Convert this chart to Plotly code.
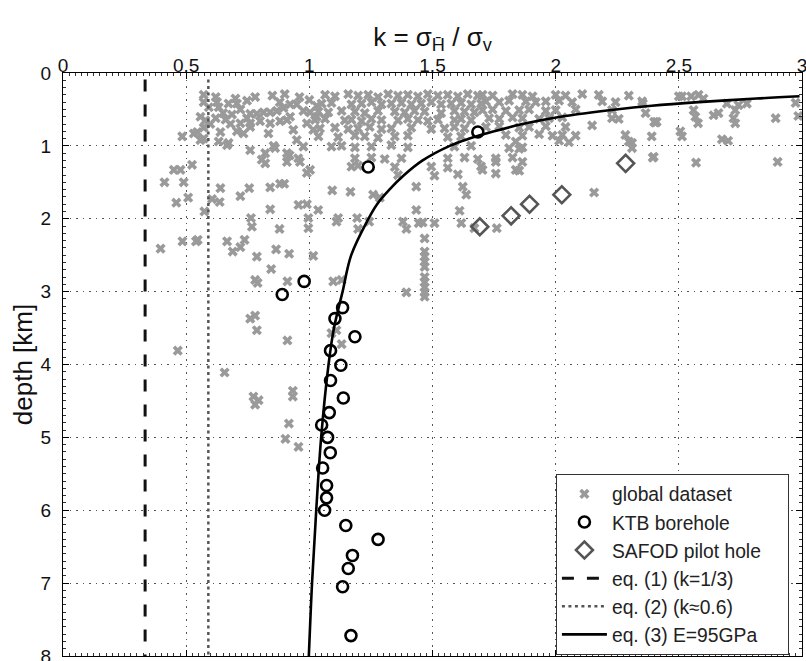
import plotly.graph_objects as go

# ---------------- data ----------------
# global dataset (k, depth km)
global_dataset = [
    # shallow band, k < 1.04
    (0.571,0.30),(0.62,0.33),(0.70,0.35),(0.78,0.33),(0.85,0.31),(0.90,0.29),(0.96,0.33),(1.00,0.37),
    (0.571,0.40),(0.625,0.40),(0.592,0.47),(0.558,0.60),(0.578,0.65),(0.571,0.75),(0.598,0.70),
    (0.632,0.47),(0.639,0.81),(0.632,0.94),(0.666,0.99),(0.484,0.87),(0.531,0.83),(0.545,0.81),
    (0.558,0.92),(0.571,0.90),(0.45,1.33),(0.477,1.33),(0.524,1.26),(0.672,0.42),(0.706,0.42),
    (0.686,0.57),(0.747,0.38),(0.76,0.56),(0.787,0.56),(0.814,0.54),(0.841,0.54),(0.868,0.52),
    (0.895,0.48),(0.922,0.43),(0.949,0.43),(0.976,0.52),(1.003,0.54),(1.03,0.60),(0.76,0.69),
    (0.80,0.66),(0.841,0.69),(0.881,0.66),(0.922,0.60),(0.72,0.69),(0.706,0.80),(0.733,0.83),
    (0.76,0.74),(0.747,0.62),(0.672,0.96),(0.76,1.06),(0.821,1.10),(0.821,1.24),(0.834,0.83),
    (0.861,1.03),(0.909,0.645),(0.935,0.78),(0.949,0.92),(0.976,1.01),(0.909,1.10),(0.909,1.22),
    (0.955,1.17),(0.962,1.22),(1.003,1.33),(0.99,0.69),(1.016,0.78),(1.03,0.45),(0.65,0.55),
    (0.62,0.62),(0.68,0.70),(0.88,0.40),(0.72,0.50),(0.66,0.64),(0.807,1.19),(0.855,1.00),
    (0.92,1.13),(0.99,1.37),
    # shallow band, 1.02 < k < 1.71
    (1.064,0.30),(1.104,0.32),(1.158,0.29),(1.198,0.31),(1.239,0.30),(1.279,0.33),(1.320,0.29),
    (1.360,0.31),(1.400,0.30),(1.441,0.32),(1.481,0.29),(1.522,0.31),(1.562,0.30),(1.603,0.32),
    (1.643,0.29),(1.684,0.31),
    (1.050,0.42),(1.090,0.41),(1.171,0.43),(1.212,0.42),(1.252,0.40),(1.293,0.43),(1.333,0.42),
    (1.374,0.41),(1.414,0.43),(1.454,0.42),(1.495,0.40),(1.535,0.43),(1.576,0.42),(1.616,0.41),
    (1.657,0.43),(1.697,0.42),
    (1.037,0.53),(1.077,0.54),(1.131,0.52),(1.185,0.53),(1.225,0.55),(1.279,0.52),(1.347,0.53),
    (1.387,0.54),(1.427,0.52),(1.468,0.53),(1.535,0.55),(1.589,0.52),(1.630,0.53),(1.670,0.54),
    (1.023,0.645),(1.064,0.63),(1.144,0.65),(1.171,0.64),(1.212,0.66),(1.252,0.63),(1.293,0.645),
    (1.360,0.65),(1.400,0.63),(1.441,0.645),(1.481,0.66),(1.522,0.64),(1.589,0.645),(1.616,0.63),
    (1.657,0.65),
    (1.043,0.76),(1.104,0.75),(1.158,0.77),(1.198,0.76),(1.245,0.74),(1.293,0.77),(1.333,0.76),
    (1.414,0.75),(1.495,0.77),(1.549,0.76),(1.589,0.74),(1.630,0.76),
    (1.037,0.87),(1.117,0.88),(1.185,0.86),(1.225,0.87),(1.279,0.89),(1.347,0.87),(1.400,0.86),
    (1.562,0.88),(1.616,0.87),
    (1.090,1.01),(1.131,1.00),(1.185,1.02),(1.252,1.01),(1.333,0.99),(1.400,1.02),(1.589,1.01),
    (1.657,1.00),
    (1.185,1.17),(1.252,1.16),(1.306,1.18),(1.374,1.17),(1.562,1.17),(1.630,1.16),(1.684,1.18),
    (1.171,1.285),(1.198,1.27),(1.347,1.29),(1.495,1.285),(1.562,1.30),(1.697,1.28),
    (1.360,1.40),(1.508,1.41),(1.603,1.39),
    # shallow band, 1.69 < k < 2.38
    (1.703,0.30),(1.744,0.31),(1.825,0.29),(1.865,0.30),(1.906,0.32),(2.000,0.30),(2.040,0.31),
    (2.108,0.29),(2.175,0.30),(2.297,0.31),
    (1.717,0.39),(1.771,0.40),(1.811,0.38),(1.879,0.39),(1.919,0.40),(1.960,0.39),(2.014,0.38),
    (2.067,0.40),(2.189,0.39),(2.243,0.40),(2.351,0.39),
    (1.703,0.51),(1.744,0.50),(1.798,0.52),(1.852,0.51),(1.892,0.50),(1.960,0.52),(2.000,0.51),
    (2.081,0.50),(2.229,0.51),
    (1.730,0.62),(1.771,0.63),(1.825,0.61),(1.865,0.62),(1.933,0.63),(1.973,0.62),(2.027,0.61),
    (2.229,0.62),(2.256,0.63),
    (1.717,0.74),(1.771,0.73),(1.852,0.75),(1.892,0.74),(1.960,0.73),(2.040,0.74),(2.148,0.72),
    (1.798,0.85),(1.865,0.86),(1.933,0.84),(1.987,0.86),(2.027,0.85),(2.081,0.86),(2.283,0.85),
    (1.838,0.94),(2.014,0.93),(2.054,0.95),(2.297,0.94),(2.310,0.96),
    (1.811,1.03),(1.852,1.04),(1.865,1.02),(2.310,1.03),
    (1.757,1.17),(1.825,1.16),(1.757,1.22),(1.865,1.22),
    (1.703,1.33),(1.838,1.33),(1.852,1.34),(1.757,1.38),
    # shallow band, k > 2.34
    (2.354,0.42),(2.365,0.55),(2.40,0.67),(2.41,0.67),(2.39,0.87),(2.394,1.16),(2.50,0.32),
    (2.513,0.32),(2.55,0.32),(2.58,0.30),(2.60,0.35),(2.56,0.51),(2.567,0.60),(2.578,0.69),
    (2.506,0.80),(2.513,0.87),(2.57,1.23),(2.641,0.58),(2.661,0.55),(2.675,0.91),(2.70,0.93),
    (2.695,0.42),(2.729,0.51),(2.722,0.62),(2.729,0.69),(2.742,0.44),(2.776,0.42),(2.893,0.62),
    (2.901,1.22),(2.974,0.41),(2.985,0.59),(2.405,0.68),(2.398,1.15),
    # deeper points
    (0.412,1.50),(0.49,1.50),(0.46,1.78),(0.508,1.71),(0.396,2.41),(0.485,2.31),(0.54,2.31),
    (0.547,2.29),(0.574,1.90),(0.605,1.73),(0.636,1.77),(0.639,1.58),(0.666,2.31),(0.689,2.45),
    (0.72,2.39),(0.737,2.29),(0.72,1.69),(0.756,1.58),(0.763,1.99),(0.767,2.11),(0.787,2.52),
    (0.78,2.84),(0.79,2.88),(0.841,1.57),(0.841,1.87),(0.879,2.14),(0.865,2.42),(0.845,2.69),
    (0.918,2.48),(0.911,2.86),(0.881,1.52),(0.898,1.52),(0.956,1.81),
    (0.99,1.80),(1.036,1.88),(0.996,1.99),(0.996,2.13),(1.11,2.04),(1.117,1.99),(1.194,1.99),
    (1.198,2.14),(1.243,2.04),(1.016,2.51),(1.097,2.86),(1.131,2.84),(1.093,1.61),(1.167,1.63),
    (1.259,1.67),(1.286,1.71),(1.38,2.04),(1.394,2.14),(1.434,1.88),(1.444,2.06),(1.434,1.56),
    (1.394,3.01),(1.508,2.06),(1.46,2.05),(1.623,1.56),(1.637,1.67),(1.61,1.89),(1.617,2.06),
    (1.761,2.13),(1.67,2.13),(2.156,1.64),
    (1.468,2.27),(1.468,2.45),(1.468,2.52),(1.468,2.59),(1.468,2.66),(1.468,2.80),(1.468,2.87),
    (1.468,2.94),(1.468,3.01),(1.468,3.07),
    (0.76,3.37),(0.78,3.33),(0.787,3.53),(0.911,3.67),(0.466,3.81),(1.09,3.57),(1.11,3.53),
    (1.131,3.72),(0.656,4.11),(0.773,4.44),(0.794,4.49),(0.78,4.55),(0.933,4.36),(0.933,4.44),
    (0.917,4.81),(0.903,5.02),(0.956,5.13),
]
global_k = [p[0] for p in global_dataset]
global_depth = [p[1] for p in global_dataset]

ktb_k = [1.684, 1.239, 0.979, 0.89, 1.135, 1.104, 1.185, 1.086, 1.128, 1.086, 1.138, 1.081,
         1.05, 1.074, 1.085, 1.054, 1.07, 1.07, 1.062, 1.148, 1.279, 1.175, 1.158, 1.135, 1.169]
ktb_depth = [0.81, 1.29, 2.86, 3.04, 3.22, 3.37, 3.62, 3.81, 4.01, 4.22, 4.46, 4.66,
             4.83, 5.0, 5.21, 5.42, 5.66, 5.83, 6.0, 6.21, 6.40, 6.62, 6.80, 7.05, 7.72]

safod_k = [2.284, 2.025, 1.894, 1.819, 1.692]
safod_depth = [1.24, 1.67, 1.80, 1.96, 2.11]

eq1_k = 1 / 3
eq2_k = 0.59
eq_depth = [0.09, 8.0]

eq3_depth = [0.32, 0.35, 0.40, 0.45, 0.50, 0.60, 0.70, 0.80, 0.90, 1.0, 1.2, 1.4, 1.6,
             1.8, 2.0, 2.5, 3.0, 3.5, 4.0, 5.0, 6.0, 7.0, 8.0]
eq3_k = [2.99, 2.815, 2.58, 2.39, 2.245, 2.02, 1.865, 1.75, 1.65, 1.57, 1.46, 1.385, 1.325,
         1.275, 1.24, 1.17, 1.135, 1.10, 1.078, 1.048, 1.028, 1.011, 0.998]

x_ticks = [0, 0.5, 1, 1.5, 2, 2.5, 3]
y_ticks = [0, 1, 2, 3, 4, 5, 6, 7, 8]

FONT = "Liberation Sans, Arial, sans-serif"

fig = go.Figure()
fig.add_trace(go.Scatter(
    x=global_k, y=global_depth, mode="markers", name="global dataset",
    marker=dict(symbol="x", size=9, color="#9a9a9a", line=dict(width=0))))
fig.add_trace(go.Scatter(
    x=ktb_k, y=ktb_depth, mode="markers", name="KTB borehole",
    marker=dict(symbol="circle-open", size=11, color="black", line=dict(width=2.6, color="black"))))
fig.add_trace(go.Scatter(
    x=safod_k, y=safod_depth, mode="markers", name="SAFOD pilot hole\u00a0\u00a0\u00a0\u00a0",
    marker=dict(symbol="diamond-open", size=13, color="#555555", line=dict(width=2.6, color="#555555"))))
fig.add_trace(go.Scatter(
    x=[eq1_k, eq1_k], y=eq_depth, mode="lines", name="eq. (1) (k=1/3)",
    line=dict(color="#111111", width=3, dash="12px,13px")))
fig.add_trace(go.Scatter(
    x=[eq2_k, eq2_k], y=eq_depth, mode="lines", name="eq. (2) (k≈0.6)",
    line=dict(color="#555555", width=2.5, dash="3px,3.5px")))
fig.add_trace(go.Scatter(
    x=eq3_k, y=eq3_depth, mode="lines", name="eq. (3) E=95GPa",
    line=dict(color="black", width=2.6, shape="spline")))

axis_common = dict(
    showline=True, linecolor="black", linewidth=1, mirror="ticks",
    ticks="inside", ticklen=6, tickcolor="black", tickwidth=1,
    showgrid=True, gridcolor="#555555", gridwidth=1, griddash="1.5px,5px",
    zeroline=False, automargin=False, ticklabeloverflow="allow",
    tickfont=dict(family=FONT, size=19, color="#111111"),
)

fig.update_xaxes(
    range=[0, 3], side="top", tickvals=x_ticks,
    ticktext=[f"{v:g}" for v in x_ticks], ticklabelstandoff=-8,
    minor=dict(dtick=0.025, ticks="inside", ticklen=3, tickcolor="#333333", showgrid=False),
    title=dict(text="k = σ<sub>H̄</sub> / σ<sub>v</sub>", font=dict(family=FONT, size=26, color="#111111"), standoff=0),
    **axis_common)
fig.update_yaxes(
    range=[8, 0], tickvals=y_ticks, ticktext=[str(v) for v in y_ticks],
    ticklabelstandoff=7,
    minor=dict(dtick=0.1, ticks="inside", ticklen=3, tickcolor="#333333", showgrid=False),
    title=dict(text="depth [km]", font=dict(family=FONT, size=26, color="#111111"), standoff=0),
    **axis_common)

fig.update_layout(
    width=806, height=661,
    margin=dict(l=63, r=4, t=73, b=5),
    paper_bgcolor="white", plot_bgcolor="white",
    font=dict(family=FONT, color="#111111"),
    legend=dict(x=0.667, y=0.002, xanchor="left", yanchor="bottom",
                bgcolor="white", bordercolor="#333333", borderwidth=1,
                font=dict(family=FONT, size=19.3, color="#222222"),
                traceorder="normal", itemwidth=45),
)

fig.write_html("out.html", config={"displayModeBar": False},
               post_script="document.body.style.margin='0';document.body.style.overflow='hidden';")
